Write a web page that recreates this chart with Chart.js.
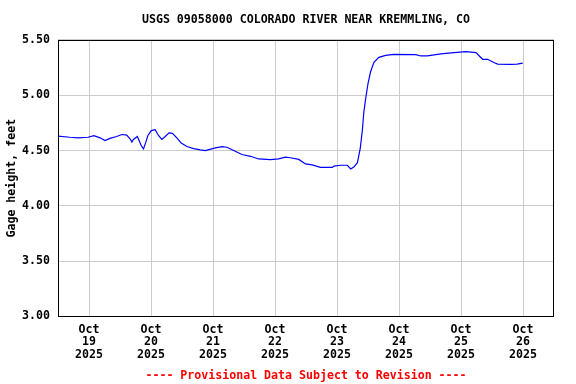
<!DOCTYPE html>
<html>
<head>
<meta charset="utf-8">
<script src="https://cdn.jsdelivr.net/npm/chart.js@4.4.1/dist/chart.umd.min.js"></script>
<style>
  html, body { margin: 0; padding: 0; background: #fff; }
  #wrap { width: 576px; height: 384px; }
</style>
</head>
<body>
<div id="wrap"><canvas id="myChart" width="576" height="384"></canvas></div>
<script>
// hours since Oct 19 2025 00:00
var hours = [-12, -7.4, -4.3, -0.4, 1.9, 4.3, 6.2, 8.1, 10.7, 12.7, 14.6, 15.9, 16.6, 17.2, 18.7,
  19.4, 20.2, 21.1, 22.0, 22.8, 24.1, 25.6, 26.9, 28.2, 29.5, 31.0, 32.3, 34.0, 35.7, 37.9,
  40.5, 43.1, 45.0, 48.9, 51.5, 53.4, 56.0, 59.2, 62.5, 65.7, 70.2, 73.4, 76.0, 78.0, 81.2,
  83.8, 86.4, 89.6, 94.2, 94.8, 97.4, 100.0, 101.3, 102.5, 103.9, 105.0, 105.8, 106.4, 107.1,
  108.0, 109.0, 110.3, 112.2, 114.8, 118.1, 126.5, 128.4, 131.0, 136.2, 141.3, 145.9, 149.8,
  151.1, 152.4, 154.3, 156.9, 158.2, 163.3, 165.7, 167.9];
// gage height, feet
var gageFt = [4.63, 4.62, 4.615, 4.62, 4.634, 4.615, 4.59, 4.61, 4.627, 4.645, 4.64, 4.606, 4.576, 4.60, 4.627,
  4.59, 4.545, 4.515, 4.576, 4.636, 4.68, 4.688, 4.636, 4.60, 4.627, 4.66, 4.655, 4.615, 4.567, 4.536,
  4.518, 4.506, 4.50, 4.524, 4.536, 4.53, 4.50, 4.464, 4.448, 4.424, 4.418, 4.424, 4.44, 4.435, 4.42,
  4.379, 4.37, 4.348, 4.348, 4.36, 4.367, 4.367, 4.333, 4.35, 4.39, 4.52, 4.68, 4.85, 4.97,
  5.106, 5.212, 5.297, 5.342, 5.36, 5.37, 5.367, 5.355, 5.355, 5.373, 5.385, 5.394, 5.385,
  5.355, 5.325, 5.325, 5.294, 5.282, 5.279, 5.282, 5.29];

var tickDays = ['19', '20', '21', '22', '23', '24', '25', '26'];
var tickMonth = 'Oct';
var tickYear = '2025';
var tickHours = [0, 24, 48, 72, 96, 120, 144, 168];

var points = hours.map(function (h, i) { return { x: h, y: gageFt[i] }; });

var mono = 'DejaVu Sans Mono';

// black frame round the plot area
var frame = {
  id: 'frame',
  afterDraw: function (chart) {
    var a = chart.chartArea, c = chart.ctx;
    c.save();
    c.strokeStyle = '#000';
    c.lineWidth = 1;
    c.strokeRect(Math.round(a.left) + 0.5, Math.round(a.top) + 0.5,
      Math.round(a.right - a.left) - 1, Math.round(a.bottom - a.top) - 1);
    c.restore();
  }
};

var ctx = document.getElementById('myChart').getContext('2d');
var chart = new Chart(ctx, {
  type: 'line',
  data: {
    datasets: [{
      data: points,
      borderColor: '#0000ff',
      borderWidth: 1.2,
      pointRadius: 0,
      tension: 0,
      fill: false
    }]
  },
  options: {
    responsive: false,
    animation: false,
    layout: { padding: { left: 0, right: 22, top: 0, bottom: 0 } },
    plugins: {
      legend: { display: false },
      tooltip: { enabled: false },
      title: {
        display: true,
        fullSize: false,
        text: 'USGS 09058000 COLORADO RIVER NEAR KREMMLING, CO',
        color: '#000',
        font: { family: mono, size: 11.6, weight: 'bold', lineHeight: 1.2 },
        padding: { top: 13, bottom: 13 }
      },
      subtitle: {
        display: true,
        fullSize: false,
        position: 'bottom',
        text: '---- Provisional Data Subject to Revision ----',
        color: '#ff0000',
        font: { family: mono, size: 11.6, weight: 'bold', lineHeight: 1.2 },
        padding: { top: 0, bottom: 1 }
      }
    },
    scales: {
      x: {
        type: 'linear',
        min: -12,
        max: 180,
        afterBuildTicks: function (s) {
          s.ticks = tickHours.map(function (v) { return { value: v }; });
        },
        afterFit: function (s) { s.height = 52.6; },
        grid: { color: '#cccccc', drawTicks: false },
        border: { display: false },
        ticks: {
          color: '#000',
          padding: 7,
          maxRotation: 0,
          autoSkip: false,
          font: { family: mono, size: 11.6, weight: 'bold', lineHeight: 1.08 },
          callback: function (v) {
            var i = tickHours.indexOf(v);
            return [tickMonth, tickDays[i], tickYear];
          }
        }
      },
      y: {
        min: 3,
        max: 5.5,
        afterFit: function (s) { s.width = 58; },
        grid: { color: '#cccccc', drawTicks: false },
        border: { display: false },
        title: {
          display: true,
          text: 'Gage height, feet',
          color: '#000',
          font: { family: mono, size: 11.6, weight: 'bold' },
          padding: { top: 5, bottom: 0 }
        },
        ticks: {
          color: '#000',
          padding: 8,
          stepSize: 0.5,
          font: { family: mono, size: 11.6, weight: 'bold' },
          callback: function (v) { return v.toFixed(2); }
        }
      }
    }
  },
  plugins: [frame]
});
</script>
</body>
</html>
